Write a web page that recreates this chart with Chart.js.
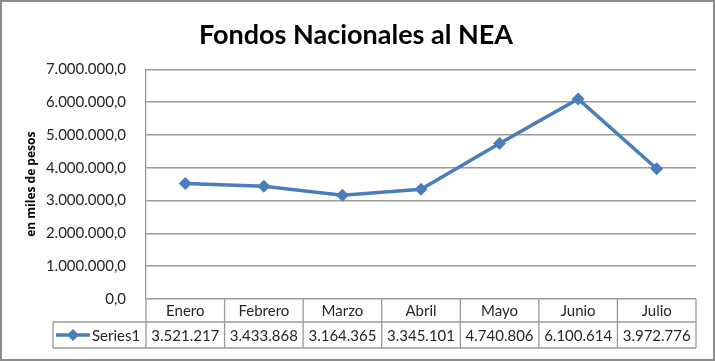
<!DOCTYPE html>
<html><head><meta charset="utf-8">
<script src="https://cdn.jsdelivr.net/npm/chart.js@4/dist/chart.umd.min.js"></script>
<style>html,body{margin:0;padding:0;background:#fff}#wrap{width:715px;height:361px}</style>
</head><body><div id="wrap"><canvas id="c" width="715" height="361"></canvas></div>
<script>
const categories = ['Enero','Febrero','Marzo','Abril','Mayo','Junio','Julio'];
const series1 = [3521217, 3433868, 3164365, 3345101, 4740806, 6100614, 3972776];
const seriesName = 'Series1';
const chartTitle = 'Fondos Nacionales al NEA';
const yTitle = 'en miles de pesos';
const yMax = 7000000;
const yStep = 1000000;

function thousands(v){ return Math.round(v).toString().replace(/\B(?=(\d{3})+(?!\d))/g, '.'); }

const LINE_COLOR = '#4a7ebb';
const GRID = '#9a9a9a';
const TEXT = '#262626';
const FONT = 'Lato';

const tablePlugin = {
  id: 'tablePlugin',
  afterDraw(chart){
    const ctx = chart.ctx, a = chart.chartArea, xs = chart.scales.x;
    const step = xs.getPixelForValue(1) - xs.getPixelForValue(0);
    const row0 = a.bottom, row1 = a.bottom + 23, row2 = a.bottom + 49;
    const legLeft = 53;
    ctx.save();
    ctx.strokeStyle = GRID; ctx.lineWidth = 1.3;
    ctx.beginPath();
    ctx.moveTo(legLeft, row1); ctx.lineTo(a.right, row1);
    ctx.moveTo(legLeft, row2); ctx.lineTo(a.right, row2);
    ctx.moveTo(legLeft, row1); ctx.lineTo(legLeft, row2);
    for (let i = 0; i <= categories.length; i++) {
      const px = xs.getPixelForValue(i) - step/2;
      ctx.moveTo(px, row0); ctx.lineTo(px, row2);
    }
    ctx.stroke();
    ctx.fillStyle = TEXT; ctx.font = '15px ' + FONT;
    ctx.textAlign = 'center'; ctx.textBaseline = 'middle';
    categories.forEach((c, i) => {
      const px = xs.getPixelForValue(i);
      ctx.fillText(c, px, (row0 + row1)/2 + 1);
      ctx.fillText(thousands(series1[i]), px, (row1 + row2)/2 + 1);
    });
    // legend key
    const ly = (row1 + row2)/2;
    ctx.strokeStyle = LINE_COLOR; ctx.lineWidth = 3.5;
    ctx.beginPath(); ctx.moveTo(56, ly); ctx.lineTo(90, ly); ctx.stroke();
    ctx.fillStyle = LINE_COLOR;
    ctx.beginPath(); ctx.moveTo(73, ly-6); ctx.lineTo(79, ly); ctx.lineTo(73, ly+6); ctx.lineTo(67, ly); ctx.closePath(); ctx.fill();
    ctx.fillStyle = TEXT; ctx.textAlign = 'left';
    ctx.fillText(seriesName, 92, ly + 1);
    // outer border
    ctx.strokeStyle = '#8c8c8c'; ctx.lineWidth = 2;
    ctx.strokeRect(1, 1, chart.width - 2, chart.height - 2);
    ctx.restore();
  }
};

new Chart(document.getElementById('c'), {
  type: 'line',
  data: {
    labels: categories,
    datasets: [{
      label: seriesName,
      data: series1,
      borderColor: LINE_COLOR,
      backgroundColor: LINE_COLOR,
      borderWidth: 3.5,
      pointStyle: 'rectRot',
      pointRadius: 6.5,
      pointBorderWidth: 0,
      pointBackgroundColor: LINE_COLOR,
      tension: 0,
      fill: false
    }]
  },
  options: {
    responsive: false,
    devicePixelRatio: 1,
    animation: false,
    layout: { padding: { top: 0, left: 16, right: 19, bottom: 62 } },
    plugins: {
      legend: { display: false },
      tooltip: { enabled: false },
      title: {
        display: true, text: chartTitle,
        color: '#000', font: { family: FONT, size: 27, weight: 'bold', lineHeight: 1.2 },
        padding: { top: 19, bottom: 18 }
      }
    },
    scales: {
      x: {
        offset: true,
        ticks: { display: false },
        grid: { display: false, drawTicks: false },
        border: { display: false }
      },
      y: {
        min: 0, max: yMax,
        afterFit(s){ s.width = 130; },
        ticks: {
          stepSize: yStep, padding: 20, color: TEXT,
          font: { family: FONT, size: 15 },
          callback: v => thousands(v) + ',0'
        },
        grid: { color: GRID, lineWidth: 1.6, drawTicks: false },
        border: { display: true, color: GRID, width: 1.3 },
        title: {
          display: true, text: yTitle, color: '#000',
          font: { family: 'Open Sans', size: 12, weight: 'bold' },
          padding: { top: 8, bottom: 0 }
        }
      }
    }
  },
  plugins: [tablePlugin]
});
</script></body></html>
